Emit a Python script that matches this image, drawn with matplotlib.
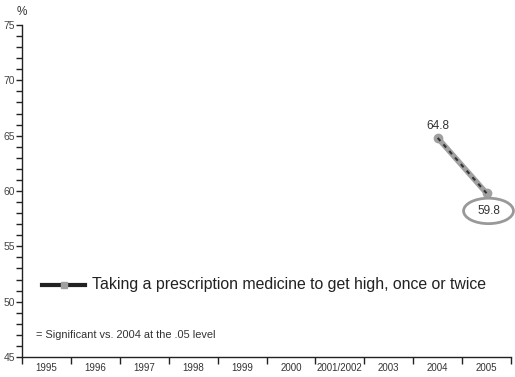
import matplotlib
matplotlib.use("Agg")
import matplotlib.pyplot as plt
from matplotlib.patches import Ellipse
from matplotlib.lines import Line2D
from matplotlib import font_manager

names = {f.name for f in font_manager.fontManager.ttflist}
narrow = "Liberation Sans Narrow" if "Liberation Sans Narrow" in names else "Liberation Sans"
plt.rcParams["font.family"] = [narrow, "DejaVu Sans"]

categories = ["1995", "1996", "1997", "1998", "1999", "2000",
              "2001/2002", "2003", "2004", "2005"]
series_years = ["2004", "2005"]
series_values = [64.8, 59.8]
significant = [False, True]
series_label = "Taking a prescription medicine to get high, once or twice"
note = "= Significant vs. 2004 at the .05 level"

fig = plt.figure(figsize=(5.15, 3.77), dpi=100)
ax = fig.add_axes([22 / 515, 20 / 377, 489 / 515, 332 / 377])

ax.set_xlim(0, len(categories))
ax.set_ylim(45, 75)
for s in ("top", "right"):
    ax.spines[s].set_visible(False)
for s in ("left", "bottom"):
    ax.spines[s].set_color("#222222")
    ax.spines[s].set_linewidth(1.0)

ax.set_yticks(range(45, 76, 5))
ax.set_yticks(range(45, 76, 1), minor=True)
ax.tick_params(axis="y", which="both", direction="out", length=4, width=1,
               color="#222222", labelsize=7.5, pad=1, labelcolor="#444444")

ax.set_xticks(range(0, len(categories) + 1))
ax.set_xticklabels([])
ax.set_xticks([i + 0.5 for i in range(len(categories))], minor=True)
ax.set_xticklabels(categories, minor=True)
ax.tick_params(axis="x", which="major", direction="out", length=5, width=1,
               color="#222222")
ax.tick_params(axis="x", which="minor", length=0, labelsize=7, pad=4,
               labelcolor="#333333")

xs = [categories.index(y) + 0.5 for y in series_years]
ax.plot(xs, series_values, color="#a0a0a0", lw=4, solid_capstyle="round",
        marker="o", ms=6, mfc="#a0a0a0", mec="#a0a0a0", zorder=3)
ax.plot(xs, series_values, color="#333333", lw=1.5, dashes=(2, 2.2), zorder=4)

for x, v, sig in zip(xs, series_values, significant):
    if sig:
        ax.text(x + 0.04, v - 1.6, f"{v:.1f}", ha="center", va="center",
                fontsize=8.5, color="#333333", zorder=5)
        ax.add_patch(Ellipse((x + 0.04, v - 1.6), 1.02, 2.3, fill=False,
                             ec="#999999", lw=2, zorder=5, clip_on=False))
    else:
        ax.text(x, v + 0.55, f"{v:.1f}", ha="center", va="bottom",
                fontsize=8.5, color="#333333", zorder=5)

# legend drawn in figure pixels
fig.add_artist(Line2D([42 / 515, 85 / 515], [1 - 285 / 377] * 2,
                      color="#222222", lw=3, transform=fig.transFigure))
fig.add_artist(Line2D([63.5 / 515], [1 - 285 / 377], marker="s", ms=5,
                      color="#a0a0a0", transform=fig.transFigure))
fig.text(92 / 515, 1 - 285 / 377, series_label, ha="left", va="center",
         fontsize=11.4, color="#222222")
fig.text(36 / 515, 1 - 335 / 377, note, ha="left", va="center",
         fontsize=7.9, color="#333333")
fig.text(22 / 515, 1 - 12 / 377, "%", ha="center", va="center",
         fontsize=8.5, color="#333333")

fig.savefig("out.png", dpi=100)
